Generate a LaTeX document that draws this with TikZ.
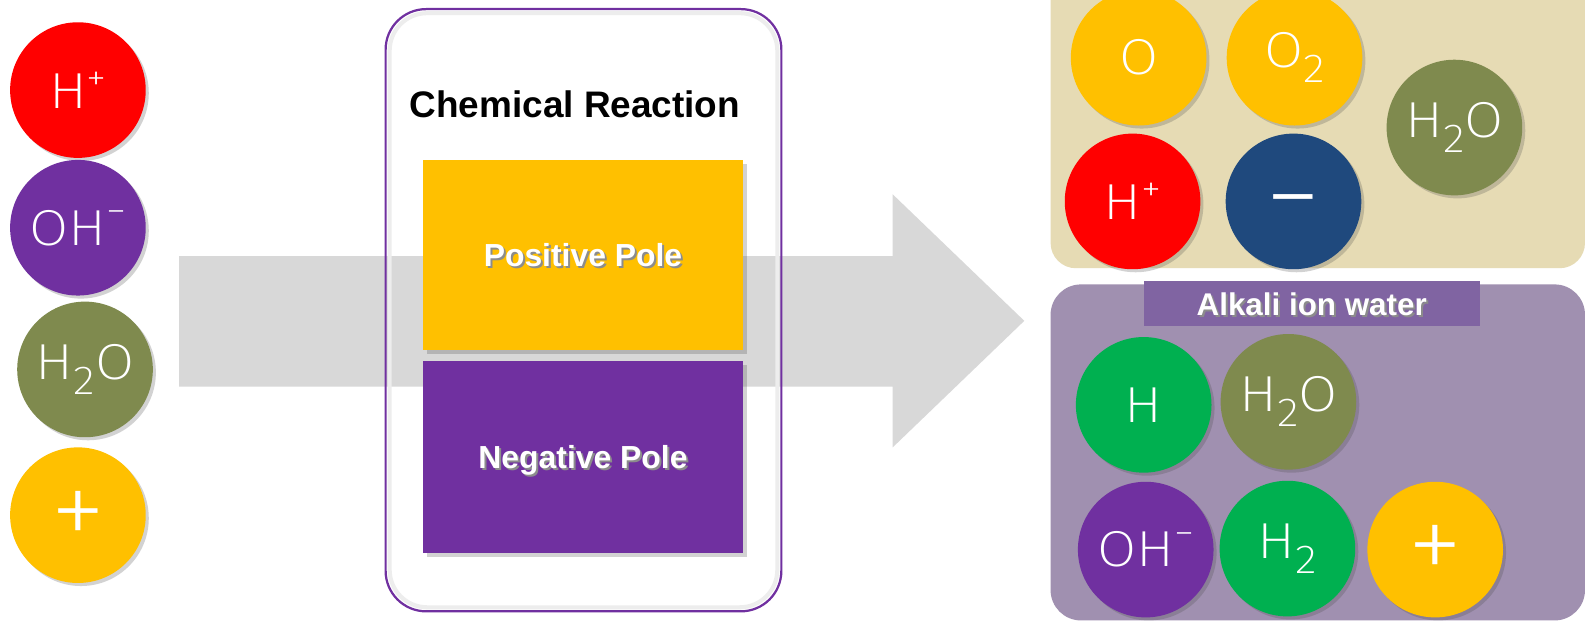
\documentclass[tikz,border=0pt]{standalone}
\usepackage{fontspec}
\setmainfont{Liberation Sans}
\newfontfamily\thinfont{Fira Sans ExtraLight}[FakeStretch=1.12]
\newfontfamily\signfont{Fira Sans ExtraLight}
\usetikzlibrary{shadows}
\definecolor{cred}{HTML}{FF0000}
\definecolor{cpurple}{HTML}{7030A0}
\definecolor{colive}{HTML}{7F8A4E}
\definecolor{cyellow}{HTML}{FFC000}
\definecolor{cgreen}{HTML}{00B050}
\definecolor{cnavy}{HTML}{1F497D}
\definecolor{cbeige}{HTML}{E6DBB4}
\definecolor{clav}{HTML}{A090B0}
\definecolor{cband}{HTML}{8064A2}
\definecolor{carrow}{HTML}{D8D8D8}
\newcommand{\subtwo}{\raisebox{-0.3em}{\fontsize{40}{40}\selectfont 2}}
\newcommand{\supplus}{\raisebox{0.36em}{\fontsize{36}{36}\selectfont +}}
\newcommand{\supminus}{\raisebox{0.42em}{\fontsize{36}{36}\selectfont −}}
\newcommand{\bigsym}[1]{\raisebox{-0.29em}[0pt][0pt]{#1}}
\newcommand{\shtext}[1]{\leavevmode\rlap{\kern2pt\raisebox{-2pt}{\textcolor{black!45}{#1}}}\textcolor{white}{#1}}
\tikzset{
  ion/.style={circle, minimum size=134, inner sep=0, text=white,
    font=\thinfont\fontsize{50}{50}\selectfont,
    drop shadow={shadow xshift=3pt, shadow yshift=-3pt, opacity=0.25, fill=black!70}},
  bigsign/.style={font=\signfont\fontsize{112}{112}\selectfont},
  pole/.style={minimum width=316, minimum height=188, inner sep=0, text depth=0pt,
    font=\bfseries\fontsize{31.5}{31.5}\selectfont,
    drop shadow={shadow xshift=4pt, shadow yshift=-4pt, opacity=0.25, fill=black!70}}
}
\begin{document}
\begin{tikzpicture}[x=1pt,y=-1pt]
\useasboundingbox (0,0) rectangle (1568,614);
\fill[white] (0,0) rectangle (1568,614);
% arrow
\fill[carrow] (177,253) -- (882,253) -- (882,192) -- (1012,317) -- (882,442) -- (882,382) -- (177,382) -- cycle;
% left ions
\node[ion, fill=cred] (l1) at (77,89) {H\supplus};
\node[ion, fill=cpurple] (l2) at (77,225) {OH\supminus};
\node[ion, fill=colive] (l3) at (84,365) {H\subtwo O};
\node[ion, fill=cyellow, bigsign] (l4) at (77,509) {\bigsym{+}};
% centre box
\draw[black!7, line width=4, rounded corners=37] (385,13) rectangle (768,600);
\node[draw=cpurple, line width=2.2, rounded corners=40, minimum width=391, minimum height=595, inner sep=0] (box) at (576.5,306.5) {};
\node (title) at (568,103) {\bfseries\fontsize{36.5}{36.5}\selectfont Chemical Reaction};
\node[pole, fill=cyellow] (pos) at (576,252) {\shtext{Positive Pole}};
\node[pole, fill=cpurple, minimum height=189] (neg) at (576,451.5) {\shtext{Negative Pole}};
% right boxes
\fill[cbeige, rounded corners=25] (1038,-40) rectangle (1566,265);
\fill[clav, rounded corners=30] (1038,281) rectangle (1566,613);
\node[ion, fill=cyellow] (t1) at (1125,57) {O};
\node[ion, fill=cyellow] (t2) at (1279,57) {O\subtwo};
\node[ion, fill=colive] (t3) at (1437,126) {H\subtwo O};
\node[ion, fill=cred] (t4) at (1119,199) {H\supplus};
\node[ion, fill=cnavy, bigsign] (t5) at (1278,199) {\bigsym{−}};
\node[fill=cband, minimum width=332, minimum height=44, inner sep=0, text depth=0pt, font=\bfseries\fontsize{31}{31}\selectfont] (band) at (1296,300) {\shtext{Alkali ion water}};
\node[ion, fill=cgreen] (b1) at (1130,400) {H};
\node[ion, fill=colive] (b2) at (1273,397) {H\subtwo O};
\node[ion, fill=cpurple] (b3) at (1132,543) {OH\supminus};
\node[ion, fill=cgreen] (b4) at (1272,542) {H\subtwo};
\node[ion, fill=cyellow, bigsign] (b5) at (1418,543) {\bigsym{+}};
\end{tikzpicture}
\end{document}
